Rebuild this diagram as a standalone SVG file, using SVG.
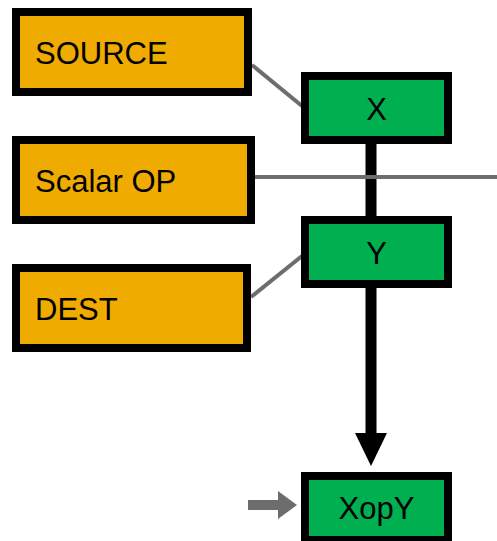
<svg xmlns="http://www.w3.org/2000/svg" width="497" height="541" viewBox="0 0 497 541">
<style>
.box{stroke:#000;stroke-width:8}
.src{fill:#F0AB00}
.reg{fill:#00B050}
.t{font-family:"Liberation Sans",Arial,sans-serif;font-size:31px;fill:#000}
.g{stroke:#6D6D6D;stroke-width:4;fill:none}
</style>
<g id="connectors">
<line x1="371" y1="144" x2="371" y2="434" stroke="#000" stroke-width="11"/>
<polygon points="355,433 387,433 371,466" fill="#000"/>
<line class="g" x1="255" y1="177" x2="497" y2="177"/>
<line class="g" x1="252" y1="65" x2="302" y2="106"/>
<line class="g" x1="251" y1="297" x2="302" y2="256"/>
<rect x="248" y="500" width="31" height="10" fill="#6D6D6D"/>
<polygon points="278,491 278,519 297,505" fill="#6D6D6D"/>
</g>
<g id="source">
<rect class="box src" x="16" y="12" width="232" height="80"/>
<text class="t" x="35" y="64">SOURCE</text>
</g>
<g id="scalar-op">
<rect class="box src" x="16" y="140" width="235" height="80"/>
<text class="t" x="35" y="192">Scalar OP</text>
</g>
<g id="dest">
<rect class="box src" x="16" y="268" width="231" height="80"/>
<text class="t" x="35" y="320">DEST</text>
</g>
<g id="x">
<rect class="box reg" x="305" y="76" width="143" height="64"/>
<text class="t" x="376.5" y="120" text-anchor="middle">X</text>
</g>
<g id="y">
<rect class="box reg" x="305" y="220" width="143" height="64"/>
<text class="t" x="376.5" y="264" text-anchor="middle">Y</text>
</g>
<g id="xopy">
<rect class="box reg" x="305" y="476" width="143" height="64"/>
<text class="t" x="376.5" y="519" text-anchor="middle">XopY</text>
</g>
</svg>
